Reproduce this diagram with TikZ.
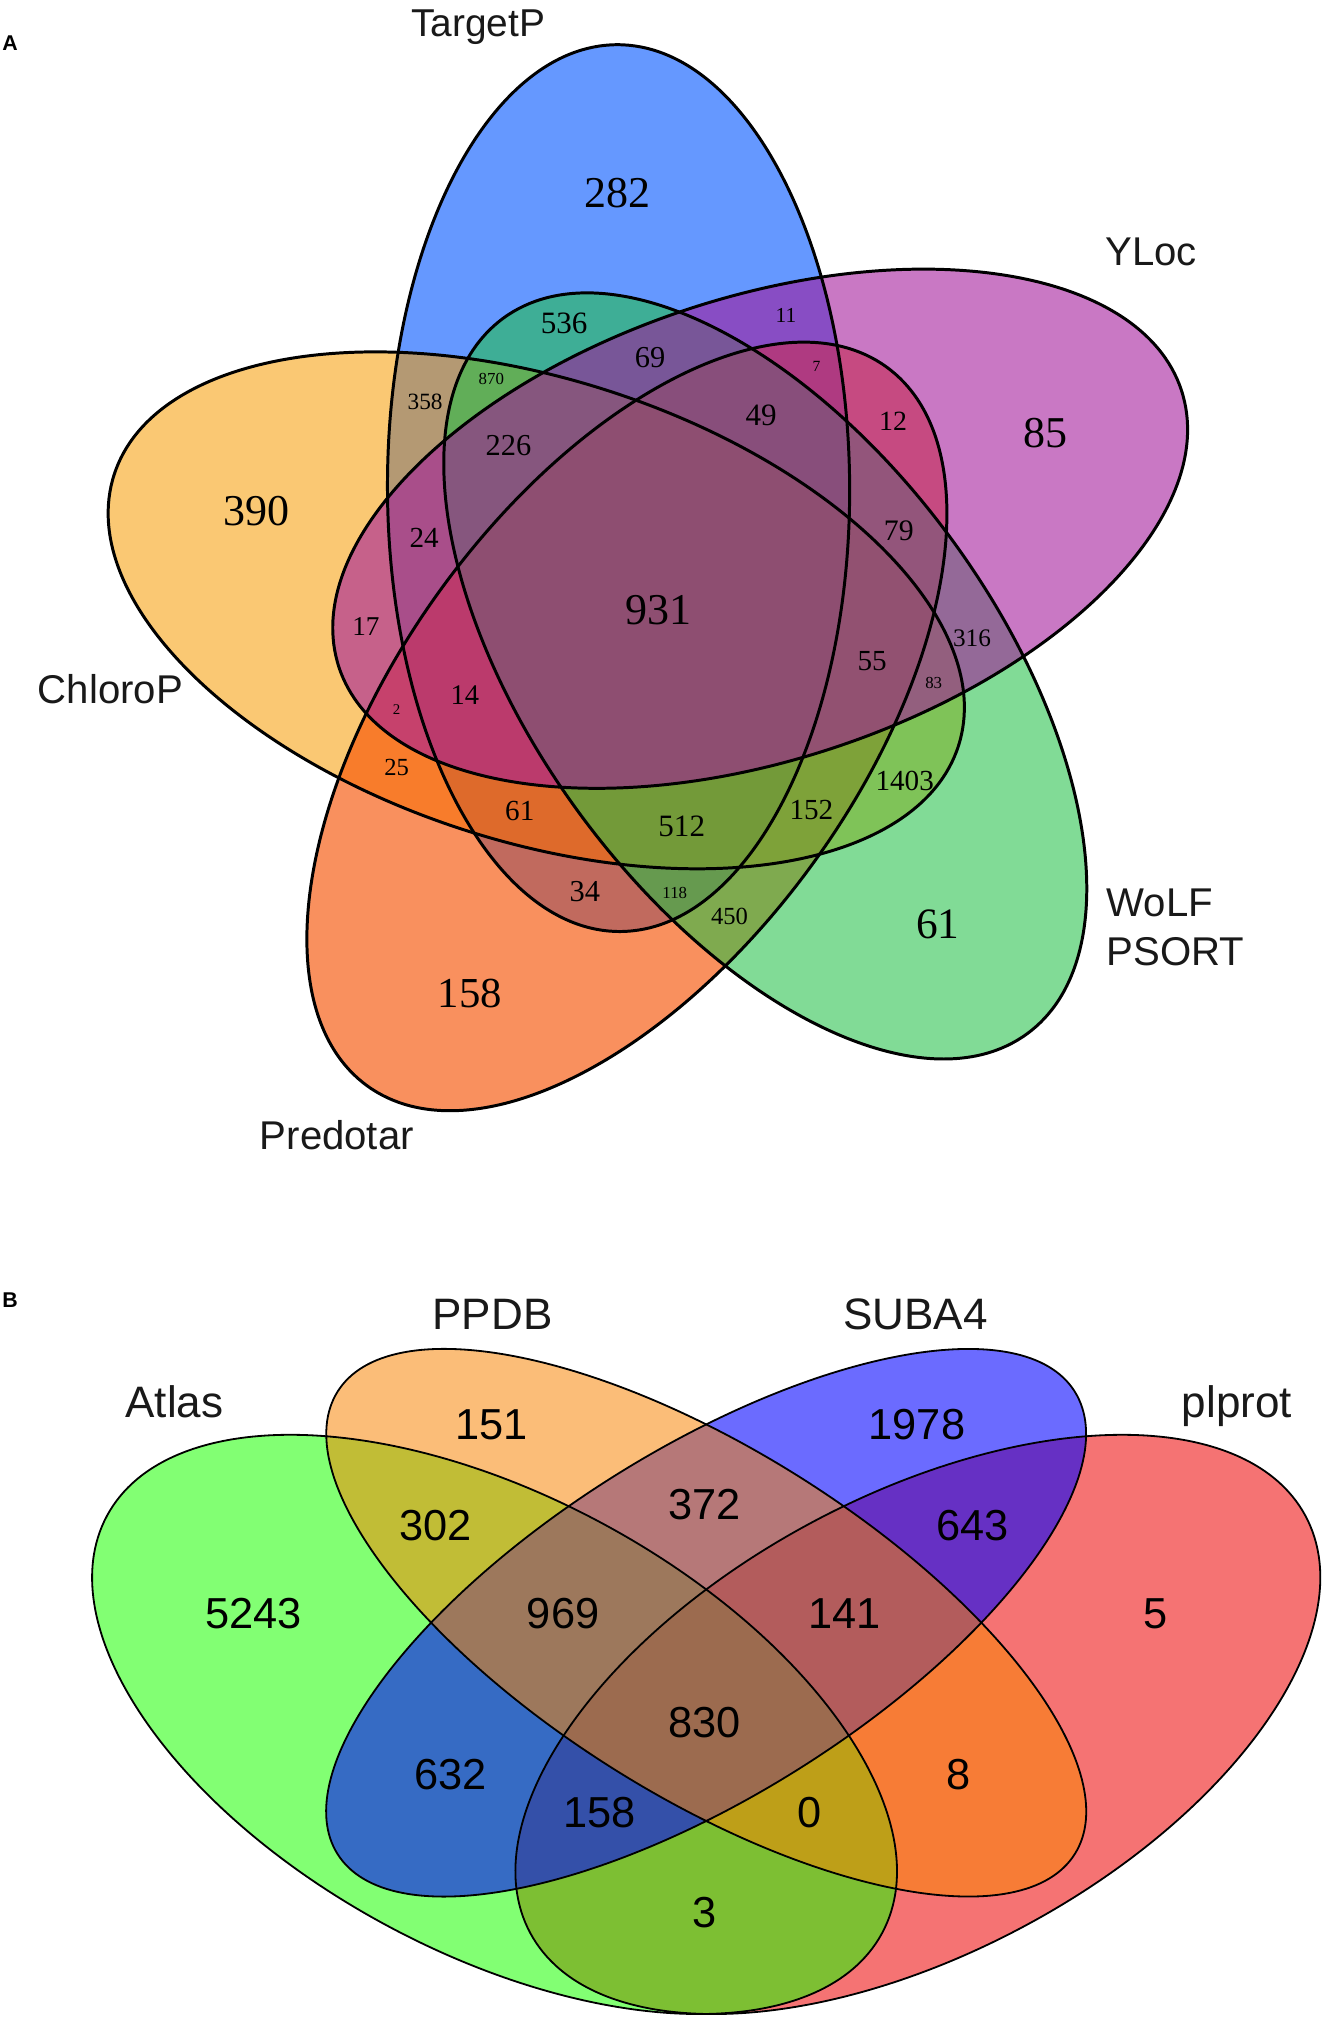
\documentclass[tikz,border=0pt]{standalone}
\usepackage{fontspec}
\setmainfont{Liberation Serif}
\newfontfamily\sansf{Liberation Sans}
\definecolor{cTargetP}{RGB}{8,90,255}
\definecolor{cChloroP}{RGB}{246,155,0}
\definecolor{cPredotar}{RGB}{247,80,1}
\definecolor{cWoLF}{RGB}{32,192,68}
\definecolor{cYLoc}{RGB}{162,24,155}
\definecolor{cAtlas}{RGB}{28,255,0}
\definecolor{cPPDB}{RGB}{249,132,0}
\definecolor{cSUBA}{RGB}{0,0,255}
\definecolor{cPlprot}{RGB}{237,0,0}
\tikzset{
  setfill/.style={fill opacity=#1, draw=none},
  outlineA/.style={draw=black, line width=2.3pt},
  outlineB/.style={draw=black, line width=1.4pt},
  numA/.style={inner sep=0pt, text=black, font=\fontsize{#1}{#1}\selectfont},
  setlabel/.style={inner sep=0pt, anchor=base, text=black!90, font=\sansf\fontsize{#1}{#1}\selectfont},
  numB/.style={inner sep=0pt, text=black, font=\sansf\fontsize{33.5}{33.5}\selectfont},
  panellabel/.style={inner sep=0pt, font=\sansf\bfseries\fontsize{16.5}{16.5}\selectfont},
}
\begin{document}
\begin{tikzpicture}[x=1pt,y=-1pt]
\useasboundingbox (0,0) rectangle (1030,1568);
\fill[white] (0,0) rectangle (1030,1568);

% ---------- Panel A: five ellipses ----------
\coordinate (eT) at (477.8,377.0);
\coordinate (eC) at (414.2,471.4);
\coordinate (eP) at (484.2,561.1);
\coordinate (eW) at (591.1,522.1);
\coordinate (eY) at (587.2,408.4);

\path[setfill=0.62, fill=cTargetP, rotate around={90.2:(eT)}] (eT) ellipse [x radius=342.5pt, y radius=178.5pt];
\path[setfill=0.55, fill=cChloroP, rotate around={162.2:(eC)}] (eC) ellipse [x radius=342.5pt, y radius=178.5pt];
\path[setfill=0.63, fill=cPredotar, rotate around={234.2:(eP)}] (eP) ellipse [x radius=342.5pt, y radius=178.5pt];
\path[setfill=0.56, fill=cWoLF, rotate around={306.2:(eW)}] (eW) ellipse [x radius=342.5pt, y radius=178.5pt];
\path[setfill=0.58, fill=cYLoc, rotate around={18.2:(eY)}] (eY) ellipse [x radius=342.5pt, y radius=178.5pt];

\draw[outlineA, rotate around={90.2:(eT)}] (eT) ellipse [x radius=342.5pt, y radius=178.5pt];
\draw[outlineA, rotate around={162.2:(eC)}] (eC) ellipse [x radius=342.5pt, y radius=178.5pt];
\draw[outlineA, rotate around={234.2:(eP)}] (eP) ellipse [x radius=342.5pt, y radius=178.5pt];
\draw[outlineA, rotate around={306.2:(eW)}] (eW) ellipse [x radius=342.5pt, y radius=178.5pt];
\draw[outlineA, rotate around={18.2:(eY)}] (eY) ellipse [x radius=342.5pt, y radius=178.5pt];

\node[panellabel] (labA) at (7.8,33) {A};
\node[setlabel=30] (lTargetP) at (369.2,28.1) {TargetP};
\node[setlabel=31] (lYLoc) at (889.2,205.4) {YLoc};
\node[setlabel=31] (lChloroP) at (85.3,543.1) {ChloroP};
\node[setlabel=31] (lPredotar) at (260.2,888) {Predotar};
\node[setlabel=31, anchor=base west] (lWoLF) at (854.5,707.8) {WoLF};
\node[setlabel=31, anchor=base west] (lPSORT) at (854.5,745.6) {PSORT};

\node[numA=34] (a282) at (477.1,149.2) {282};
\node[numA=34] (a390) at (198.2,395.1) {390};
\node[numA=34] (a85) at (807.4,334.6) {85};
\node[numA=34] (a931) at (509,471) {931};
\node[numA=33] (a158) at (362.9,767) {158};
\node[numA=33.5] (a61w) at (724.5,714.2) {61};
\node[numA=24] (a536) at (435.7,249.7) {536};
\node[numA=16.5] (a11) at (607.1,243.8) {11};
\node[numA=23.5] (a69) at (502.2,276.3) {69};
\node[numA=13] (a870) at (379.5,292.6) {870};
\node[numA=18] (a358) at (328.4,310.2) {358};
\node[numA=12] (a7) at (630.7,283.1) {7};
\node[numA=24] (a49) at (587.9,320.6) {49};
\node[numA=21.5] (a12) at (689.8,325.3) {12};
\node[numA=23.5] (a226) at (392.8,344.3) {226};
\node[numA=22.5] (a24) at (327.6,415.4) {24};
\node[numA=23] (a79) at (694.3,409.9) {79};
\node[numA=21] (a17) at (282.6,483.9) {17};
\node[numA=11.5] (a2) at (306.3,547.7) {2};
\node[numA=22] (a14) at (359.1,536.6) {14};
\node[numA=22.5] (a55) at (673.6,510.9) {55};
\node[numA=13] (a83) at (721.2,527.6) {83};
\node[numA=19.5] (a316) at (750.8,492.9) {316};
\node[numA=19] (a25) at (306.3,592.6) {25};
\node[numA=22.5] (a61) at (401.5,626.7) {61};
\node[numA=24] (a512) at (526.6,638) {512};
\node[numA=22.5] (a152) at (626.7,625.4) {152};
\node[numA=22.5] (a1403) at (698.8,603.6) {1403};
\node[numA=23.5] (a34) at (451.7,688.5) {34};
\node[numA=13] (a118) at (521.2,689.8) {118};
\node[numA=19] (a450) at (563.5,707.8) {450};

% ---------- Panel B: four ellipses ----------
\coordinate (bA) at (382,1332);
\coordinate (bM) at (545.5,1253.5);
\coordinate (bL) at (709,1332);

\path[setfill=0.55, fill=cPlprot, rotate around={28.3:(bL)}] (bL) ellipse [x radius=340pt, y radius=176.2pt];
\path[setfill=0.55, fill=cAtlas, rotate around={-28.3:(bA)}] (bA) ellipse [x radius=340pt, y radius=176.2pt];
\path[setfill=0.58, fill=cSUBA, rotate around={32.1:(bM)}] (bM) ellipse [x radius=336.1pt, y radius=133.7pt];
\path[setfill=0.53, fill=cPPDB, rotate around={-32.1:(bM)}] (bM) ellipse [x radius=336.1pt, y radius=133.7pt];

\draw[outlineB, rotate around={28.3:(bL)}] (bL) ellipse [x radius=340pt, y radius=176.2pt];
\draw[outlineB, rotate around={-28.3:(bA)}] (bA) ellipse [x radius=340pt, y radius=176.2pt];
\draw[outlineB, rotate around={32.1:(bM)}] (bM) ellipse [x radius=336.1pt, y radius=133.7pt];
\draw[outlineB, rotate around={-32.1:(bM)}] (bM) ellipse [x radius=336.1pt, y radius=133.7pt];

\node[panellabel] (labB) at (7.8,1004.6) {B};
\node[setlabel=34] (lAtlas) at (134.7,1095.1) {Atlas};
\node[setlabel=34] (lPPDB) at (380.4,1026.8) {PPDB};
\node[setlabel=34] (lSUBA) at (707,1026.8) {SUBA4};
\node[setlabel=34] (lplprot) at (955.4,1095.1) {plprot};

\node[numB] (b151) at (379.8,1100.7) {151};
\node[numB] (b1978) at (708.3,1100.7) {1978};
\node[numB] (b302) at (336.4,1178.2) {302};
\node[numB] (b372) at (544,1162.4) {372};
\node[numB] (b643) at (751,1178.2) {643};
\node[numB] (b5243) at (195.8,1246.6) {5243};
\node[numB] (b969) at (435,1246.6) {969};
\node[numB] (b141) at (652.4,1246.6) {141};
\node[numB] (b5) at (892.2,1246.6) {5};
\node[numB] (b830) at (544,1330.8) {830};
\node[numB] (b632) at (348.2,1370.3) {632};
\node[numB] (b8) at (740.5,1370.3) {8};
\node[numB] (b158) at (463.2,1399.9) {158};
\node[numB] (b0) at (625.5,1399.9) {0};
\node[numB] (b3) at (544,1477.5) {3};
\end{tikzpicture}
\end{document}
